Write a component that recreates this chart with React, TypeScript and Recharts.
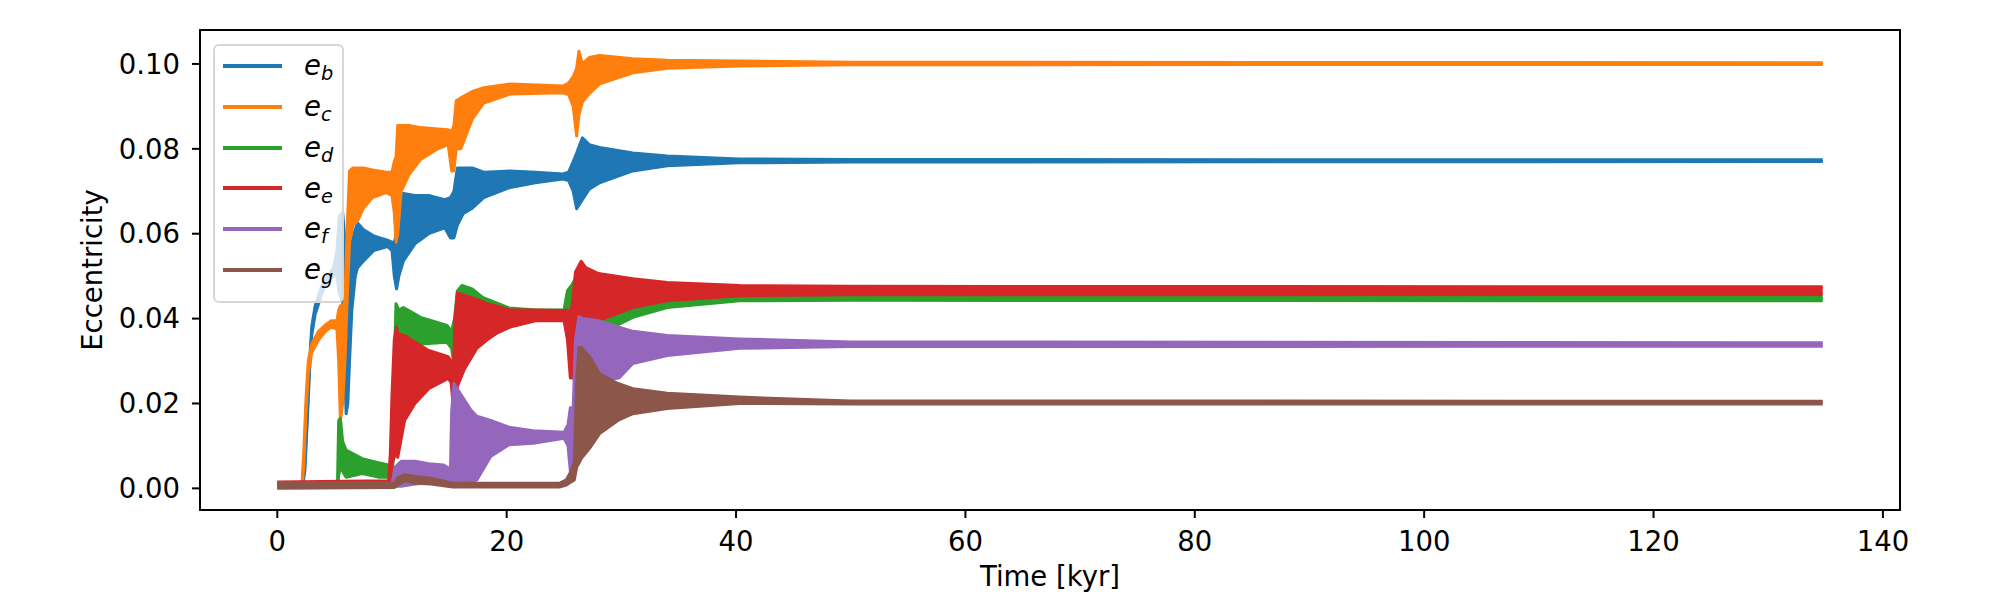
import React from 'react';
import { ComposedChart, Area, XAxis, YAxis, ReferenceArea } from 'recharts';

// axis settings (matplotlib-style 5% margins around the data)
const X_DOMAIN: [number, number] = [-6.74, 141.49];
const Y_DOMAIN: [number, number] = [-0.0051, 0.108];
const xTicks = [0, 20, 40, 60, 80, 100, 120, 140];
const yTicks = [0, 0.02, 0.04, 0.06, 0.08, 0.1];

const seriesKeys = ['b', 'c', 'd', 'e', 'f', 'g'];
const seriesColors = ['#1f77b4', '#ff7f0e', '#2ca02c', '#d62728', '#9467bd', '#8c564b'];

// [time kyr, lower envelope, upper envelope]
const eB: [number, number, number][] = [
    [0, 0.0003, 0.0012], [2.2, 0.0003, 0.0012], [2.4, 0.004, 0.006], [2.6, 0.015, 0.017],
    [2.8, 0.027, 0.029], [3.0, 0.036, 0.038], [3.3, 0.041, 0.043], [3.9, 0.046, 0.048],
    [4.4, 0.049, 0.05], [4.9, 0.05, 0.052], [5.2, 0.05, 0.056], [5.4, 0.046, 0.064],
    [5.7, 0.044, 0.065], [5.85, 0.03, 0.06], [6.0, 0.0176, 0.055], [6.15, 0.02, 0.045],
    [6.3, 0.03, 0.05], [6.5, 0.042, 0.058], [6.8, 0.05, 0.061], [7.0, 0.052, 0.0625],
    [7.5, 0.0535, 0.061], [8.4, 0.056, 0.0595], [9.6, 0.057, 0.0585], [10.0, 0.056, 0.058],
    [10.2, 0.05, 0.058], [10.4, 0.047, 0.06], [10.6, 0.05, 0.069], [11.0, 0.0536, 0.0695],
    [12.0, 0.0576, 0.069], [13.2, 0.06, 0.069], [14.6, 0.0614, 0.068], [15.1, 0.059, 0.0685],
    [15.4, 0.059, 0.07], [15.7, 0.062, 0.0755], [16.2, 0.0647, 0.0755], [17.0, 0.066, 0.0755],
    [18.0, 0.0685, 0.0745], [20.3, 0.0709, 0.0748], [22.5, 0.072, 0.0745], [24.9, 0.0729, 0.0741],
    [25.4, 0.0725, 0.0745], [25.8, 0.07, 0.077], [26.1, 0.0659, 0.079], [26.6, 0.068, 0.0826],
    [27.2, 0.0705, 0.081], [28.1, 0.072, 0.0803], [31.0, 0.0748, 0.079], [34.0, 0.076, 0.0783],
    [40.3, 0.0767, 0.0776], [50, 0.0769, 0.0775], [134.75, 0.077, 0.0774],
];

const eC: [number, number, number][] = [
    [0, 0.0003, 0.0012], [2.15, 0.0003, 0.0012], [2.3, 0.005, 0.008], [2.5, 0.018, 0.021],
    [2.7, 0.027, 0.03], [3.0, 0.032, 0.034], [3.6, 0.035, 0.037], [4.2, 0.037, 0.0385],
    [4.7, 0.038, 0.0395], [5.2, 0.0375, 0.0395], [5.35, 0.03, 0.042], [5.5, 0.016, 0.043],
    [5.7, 0.02, 0.042], [5.9, 0.03, 0.045], [6.1, 0.045, 0.062], [6.3, 0.058, 0.0748],
    [6.6, 0.062, 0.0755], [7.0, 0.063, 0.0755], [7.5, 0.066, 0.0755], [8.3, 0.0685, 0.075],
    [9.5, 0.0697, 0.0745], [10.0, 0.069, 0.0745], [10.2, 0.065, 0.077], [10.35, 0.058, 0.078],
    [10.5, 0.06, 0.0855], [10.8, 0.07, 0.0855], [11.5, 0.074, 0.0855], [12.5, 0.0775, 0.085],
    [14.0, 0.08, 0.0847], [14.9, 0.081, 0.0845], [15.2, 0.0748, 0.084], [15.4, 0.0748, 0.0855],
    [15.6, 0.08, 0.0913], [16.0, 0.08, 0.092], [17.0, 0.087, 0.0935], [18.0, 0.0908, 0.0944],
    [20.3, 0.0929, 0.0953], [24.9, 0.0932, 0.0948], [25.4, 0.0928, 0.0955], [25.8, 0.09, 0.097],
    [26.1, 0.083, 0.099], [26.3, 0.088, 0.103], [26.6, 0.091, 0.1], [27.2, 0.093, 0.1015],
    [28.1, 0.0953, 0.102], [31, 0.0979, 0.1012], [34, 0.099, 0.1009], [40.3, 0.0995, 0.1007],
    [50, 0.0998, 0.1004], [134.75, 0.0999, 0.1003],
];

const eD: [number, number, number][] = [
    [0, 0.0003, 0.0013], [5.25, 0.0003, 0.0013], [5.35, 0.003, 0.016], [5.5, 0.005, 0.0165],
    [5.7, 0.004, 0.011], [6.0, 0.0026, 0.009], [7.4, 0.0035, 0.007], [8.9, 0.0026, 0.006],
    [9.7, 0.0026, 0.0055], [10.0, 0.0026, 0.006], [10.2, 0.01, 0.03], [10.35, 0.03, 0.0435],
    [10.6, 0.034, 0.042], [11.0, 0.0365, 0.0426], [12.5, 0.034, 0.0403], [14.8, 0.0344, 0.0384],
    [15.2, 0.033, 0.037], [15.45, 0.028, 0.04], [15.7, 0.0247, 0.0465], [16.1, 0.027, 0.0478],
    [17.0, 0.032, 0.047], [17.9, 0.0364, 0.045], [20.2, 0.04, 0.0425], [22.5, 0.0412, 0.042],
    [25.0, 0.0412, 0.042], [25.3, 0.041, 0.0466], [25.7, 0.04, 0.048], [26.1, 0.038, 0.05],
    [26.6, 0.036, 0.049], [28.7, 0.0372, 0.0475], [31, 0.0403, 0.047], [34, 0.0426, 0.0465],
    [40.3, 0.0442, 0.0455], [50, 0.0443, 0.0452], [134.75, 0.0442, 0.0451],
];

const eE: [number, number, number][] = [
    [0, 0.0003, 0.0015], [9.7, 0.0003, 0.0018], [9.85, 0.002, 0.008], [10.0, 0.006, 0.022],
    [10.2, 0.0073, 0.035], [10.4, 0.0096, 0.038], [10.5, 0.0073, 0.0365], [11.1, 0.016, 0.036],
    [12.0, 0.02, 0.0345], [13.2, 0.0235, 0.0325], [14.9, 0.0259, 0.031], [15.15, 0.025, 0.03],
    [15.35, 0.0193, 0.028], [15.5, 0.02, 0.04], [15.7, 0.024, 0.046], [16.3, 0.028, 0.0455],
    [17.4, 0.033, 0.0445], [18.3, 0.035, 0.0435], [19.1, 0.0365, 0.043], [20.3, 0.038, 0.042],
    [22.5, 0.0395, 0.042], [25.0, 0.0395, 0.0419], [25.3, 0.035, 0.042], [25.55, 0.026, 0.041],
    [25.75, 0.026, 0.044], [26.0, 0.035, 0.051], [26.5, 0.0365, 0.0535], [26.9, 0.0365, 0.052],
    [28.0, 0.0395, 0.0506], [31.0, 0.0426, 0.0494], [34.0, 0.0442, 0.0485], [40.3, 0.0454, 0.0478],
    [50, 0.0456, 0.0476], [134.75, 0.0457, 0.0475],
];

const eF: [number, number, number][] = [
    [0, 0.0003, 0.0012], [10.0, 0.0003, 0.0012], [10.3, 0.0005, 0.005], [10.8, 0.0005, 0.0064],
    [12.0, 0.001, 0.0064], [13.2, 0.0013, 0.0058], [14.5, 0.0013, 0.0055], [15.1, 0.0013, 0.0045],
    [15.2, 0.0013, 0.018], [15.4, 0.001, 0.0247], [15.8, 0.001, 0.023], [16.9, 0.0015, 0.0184],
    [17.4, 0.002, 0.017], [18.6, 0.0075, 0.016], [20.2, 0.0103, 0.0144], [22.3, 0.0106, 0.0136],
    [25.0, 0.0118, 0.0132], [25.35, 0.01, 0.015], [25.55, 0.004, 0.019], [25.8, 0.006, 0.019],
    [26.0, 0.015, 0.035], [26.3, 0.025, 0.0405], [26.6, 0.0278, 0.04], [28.0, 0.0254, 0.0395],
    [29.8, 0.026, 0.038], [31.0, 0.0294, 0.037], [34.0, 0.0313, 0.036], [40.3, 0.033, 0.0352],
    [50, 0.0334, 0.0345], [134.75, 0.0335, 0.0343],
];

const eG: [number, number, number][] = [
    [0, 0.0, 0.0014], [10.2, 0.0002, 0.0012], [10.5, 0.0008, 0.0025], [11.1, 0.0018, 0.0032],
    [12.0, 0.0012, 0.0028], [13.4, 0.001, 0.0024], [15.3, 0.0003, 0.0012], [24.6, 0.0003, 0.0012],
    [25.2, 0.0008, 0.002], [25.6, 0.0015, 0.004], [25.9, 0.002, 0.006], [26.1, 0.005, 0.025],
    [26.3, 0.0059, 0.0332], [26.5, 0.007, 0.0332], [27.3, 0.0097, 0.0308], [28.1, 0.0129, 0.027],
    [29.7, 0.016, 0.0247], [31, 0.0176, 0.0235], [34, 0.0188, 0.0224], [40.3, 0.02, 0.0215],
    [50, 0.0199, 0.0206], [134.75, 0.0199, 0.0205],
];

const seriesData = [eB, eC, eD, eE, eF, eG];

const FONT = '"DejaVu Sans", sans-serif';
const FONT_SIZE = 27.5;

const toRows = (pts: [number, number, number][]) =>
    pts.map(([t, lo, hi]) => ({ t, band: [lo, hi] }));

// matplotlib-like legend box drawn over the plot
const EccLegend = () => (
    <div style={{
        position: 'absolute',
        left: 213,
        top: 44,
        width: 131,
        height: 259,
        boxSizing: 'border-box',
        border: '2px solid #d6d6d6',
        borderRadius: 6,
        background: 'rgba(255,255,255,0.8)',
        fontFamily: FONT,
    }}>
        {seriesKeys.map((k, i) => (
            <div key={k} style={{
                position: 'absolute',
                left: 0,
                top: -0.4 + 40.8 * i,
                height: 40.8,
                display: 'flex',
                alignItems: 'center',
            }}>
                <div style={{ marginLeft: 8, width: 59, height: 4, background: seriesColors[i] }} />
                <span style={{ marginLeft: 22, fontStyle: 'italic', fontSize: FONT_SIZE, lineHeight: 1, color: '#000' }}>
                    e
                    <span style={{ fontSize: '0.7em', position: 'relative', top: 5 }}>{k}</span>
                </span>
            </div>
        ))}
    </div>
);

export default function App() {
    return (
        <div style={{ position: 'absolute', left: 0, top: 0, width: 2000, height: 600, background: '#fff' }}>
            <ComposedChart width={2000} height={600} margin={{ top: 30, right: 100, bottom: 0, left: 0 }}>
                <XAxis
                    type="number"
                    dataKey="t"
                    domain={X_DOMAIN}
                    ticks={xTicks}
                    allowDataOverflow
                    interval={0}
                    height={90}
                    tickSize={8}
                    tickMargin={13}
                    axisLine={{ stroke: '#000', strokeWidth: 2 }}
                    tickLine={{ stroke: '#000', strokeWidth: 2 }}
                    tick={{ fill: '#000', fontSize: FONT_SIZE, fontFamily: FONT }}
                    label={{ value: 'Time [kyr]', position: 'insideBottom', offset: 14, fill: '#000', fontSize: FONT_SIZE, fontFamily: FONT }}
                />
                <YAxis
                    type="number"
                    domain={Y_DOMAIN}
                    ticks={yTicks}
                    allowDataOverflow
                    interval={0}
                    width={200}
                    tickSize={8}
                    tickMargin={12}
                    axisLine={{ stroke: '#000', strokeWidth: 2 }}
                    tickLine={{ stroke: '#000', strokeWidth: 2 }}
                    tick={{ fill: '#000', fontSize: FONT_SIZE, fontFamily: FONT }}
                    tickFormatter={(v: number) => v.toFixed(2)}
                    label={{ value: 'Eccentricity', angle: -90, position: 'center', dx: -8, fill: '#000', fontSize: FONT_SIZE, fontFamily: FONT }}
                />
                {seriesData.map((pts, i) => (
                    <Area
                        key={seriesKeys[i]}
                        name={`e_${seriesKeys[i]}`}
                        data={toRows(pts)}
                        dataKey="band"
                        type="linear"
                        stroke={seriesColors[i]}
                        strokeWidth={3}
                        strokeLinejoin="round"
                        fill={seriesColors[i]}
                        fillOpacity={1}
                        dot={false}
                        activeDot={false}
                        legendType="none"
                        isAnimationActive={false}
                    />
                ))}
                {/* frame of the axes */}
                <ReferenceArea
                    x1={X_DOMAIN[0]}
                    x2={X_DOMAIN[1]}
                    y1={Y_DOMAIN[0]}
                    y2={Y_DOMAIN[1]}
                    fill="none"
                    stroke="#000"
                    strokeWidth={2}
                    ifOverflow="visible"
                />
            </ComposedChart>
            <EccLegend />
        </div>
    );
}
